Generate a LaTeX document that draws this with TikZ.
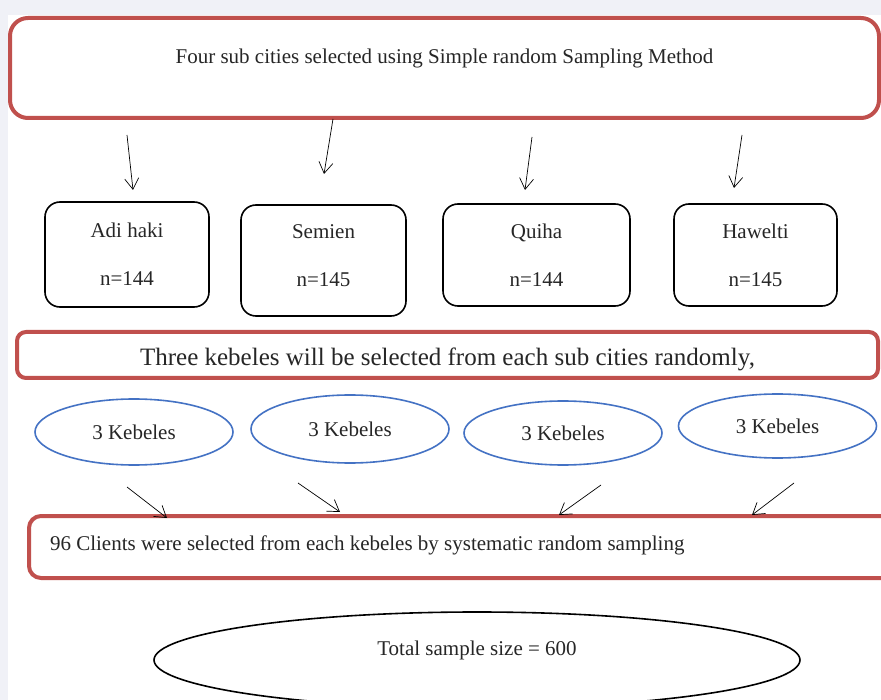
\documentclass[tikz,border=0pt]{standalone}
\usepackage{fontspec}
\setmainfont{Liberation Serif}
\usetikzlibrary{shapes.geometric,arrows.meta}
\definecolor{boxred}{HTML}{C0504D}
\definecolor{ellblue}{HTML}{4472C4}
\definecolor{pagegrey}{HTML}{F0F1F7}

\begin{document}
\begin{tikzpicture}[x=1pt, y=-1pt,
    redbox/.style={draw=boxred, line width=4pt, inner sep=0pt, text=black!85, font=\fontsize{21}{25}\selectfont},
    citybox/.style={draw, line width=1.6pt, rounded corners=15pt, inner sep=0pt, align=center, text=black!85, font=\fontsize{21}{48}\selectfont},
    kebele/.style={ellipse, draw=ellblue, line width=1.6pt, minimum width=198pt, minimum height=66pt, inner sep=0pt, text=black!85, font=\fontsize{21}{25}\selectfont},
    arr/.style={line width=0.7pt, -{Straight Barb[length=11pt,width=14pt]}}]
    \useasboundingbox (0,0) rectangle (881,700);
    \clip (0,0) rectangle (881,700);
    \fill[pagegrey] (0,0) rectangle (881,700);
    \fill[white] (8,15) rectangle (881,700);

    \node[redbox, rounded corners=18pt, minimum width=869pt, minimum height=100pt, text height=15pt, text depth=23pt] (top) at (444.5,68) {Four sub cities selected using Simple random Sampling Method};

    \node[citybox, minimum width=164pt, minimum height=105pt] (adi) at (127,254.5) {Adi haki\\n=144};
    \node[citybox, minimum width=165pt, minimum height=111pt, text depth=9.5pt] (semien) at (323.5,260.5) {Semien\\n=145};
    \node[citybox, minimum width=187pt, minimum height=102pt] (quiha) at (536.5,255) {Quiha\\n=144};
    \node[citybox, minimum width=163pt, minimum height=102pt] (hawelti) at (755.5,255) {Hawelti\\n=145};

    \node[redbox, rounded corners=9pt, minimum width=861pt, minimum height=46pt, text height=22pt, text depth=0pt, font=\fontsize{25}{30}\selectfont] (three) at (447.5,355) {Three kebeles will be selected from each sub cities randomly,};

    \node[kebele] (k1) at (134,432) {3 Kebeles};
    \node[kebele, minimum height=68pt] (k2) at (350,429) {3 Kebeles};
    \node[kebele, minimum height=64pt] (k3) at (563,433) {3 Kebeles};
    \node[kebele, minimum height=64pt] (k4) at (777.5,426) {3 Kebeles};

    \node[redbox, rounded corners=12pt, anchor=west, minimum width=880pt, minimum height=62pt, text width=838pt, align=flush left, text height=15pt, text depth=9pt] (clients) at (27,547) {96 Clients were selected from each kebeles by systematic random sampling};

    \node[ellipse, draw, line width=1.6pt, minimum width=646pt, minimum height=96pt, inner sep=0pt, text=black!85, font=\fontsize{21}{25}\selectfont, text height=15pt, text depth=25pt] (total) at (477,660) {Total sample size = 600};

    % arrows
    \coordinate (a1) at (127,135);  \coordinate (a1e) at (133,190);
    \coordinate (a2) at (333,119);  \coordinate (a2e) at (324,174);
    \coordinate (a3) at (532,137);  \coordinate (a3e) at (525,190);
    \coordinate (a4) at (742,135);  \coordinate (a4e) at (734,188);
    \draw[arr] (a1) -- (a1e);
    \draw[arr] (a2) -- (a2e);
    \draw[arr] (a3) -- (a3e);
    \draw[arr] (a4) -- (a4e);

    \coordinate (b1) at (127,487);  \coordinate (b1e) at (167,518);
    \coordinate (b2) at (298,483);  \coordinate (b2e) at (340,512);
    \coordinate (b3) at (601,485);  \coordinate (b3e) at (559,515);
    \coordinate (b4) at (794,483);  \coordinate (b4e) at (752,515);
    \draw[arr] (b1) -- (b1e);
    \draw[arr] (b2) -- (b2e);
    \draw[arr] (b3) -- (b3e);
    \draw[arr] (b4) -- (b4e);
\end{tikzpicture}
\end{document}
